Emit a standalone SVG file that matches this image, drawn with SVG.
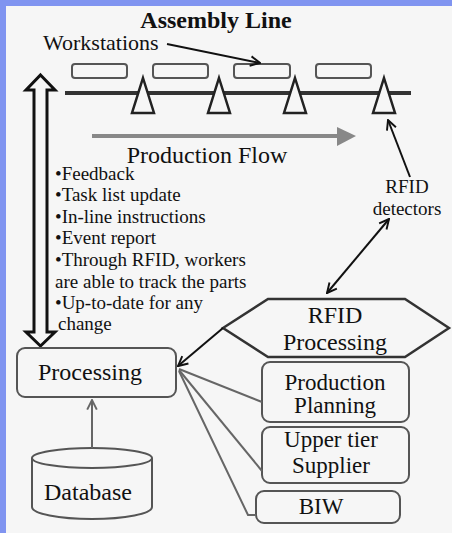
<svg xmlns="http://www.w3.org/2000/svg" width="452" height="533" viewBox="0 0 452 533">
<defs>
<style>
.box{fill:none;stroke:#555;stroke-width:2}
.ws{fill:none;stroke:#555;stroke-width:2}
.tri{fill:#f6f6f6;stroke:#222;stroke-width:2.5}
.blk{fill:none;stroke:#111;stroke-width:2}
.gry{fill:none;stroke:#666;stroke-width:2}
</style>
<marker id="ab" viewBox="0 0 10 10" refX="9" refY="5" markerWidth="12" markerHeight="12" orient="auto-start-reverse" markerUnits="userSpaceOnUse">
<path d="M1,1 L9,5 L1,9" fill="none" stroke="#111" stroke-width="1.6"/>
</marker>
<marker id="ag" viewBox="0 0 10 10" refX="9" refY="5" markerWidth="12" markerHeight="12" orient="auto" markerUnits="userSpaceOnUse">
<path d="M1,1 L9,5 L1,9" fill="none" stroke="#666" stroke-width="1.6"/>
</marker>
</defs>
<rect x="0" y="0" width="452" height="533" fill="#8094f0"/>
<rect x="6" y="6" width="446" height="527" fill="#f6f6f6"/>

<g font-family="Liberation Serif" fill="#111">
<g id="title">
<text x="216" y="28" text-anchor="middle" font-size="24" font-weight="bold">Assembly Line</text>
</g>
<g id="workstations-label">
<text x="43" y="50" font-size="22">Workstations</text>
</g>

<g id="assembly-line">
<line x1="65" y1="93" x2="411" y2="93" stroke="#333" stroke-width="4"/>
<rect class="ws" x="72" y="64" width="55" height="14" rx="3"/>
<rect class="ws" x="153" y="64" width="55" height="14" rx="3"/>
<rect class="ws" x="234" y="64" width="56" height="14" rx="3"/>
<rect class="ws" x="316" y="64" width="55" height="14" rx="3"/>
<polygon class="tri" points="143,78 154,113 132,113"/>
<polygon class="tri" points="219,78 230,113 208,113"/>
<polygon class="tri" points="295,78 306,113 284,113"/>
<polygon class="tri" points="384,78 395,113 373,113"/>
</g>

<g id="production-flow">
<line x1="92" y1="136" x2="340" y2="136" stroke="#888" stroke-width="4"/>
<polygon points="337,127 356,136 337,146" fill="#888"/>
<text x="207" y="163" text-anchor="middle" font-size="24">Production Flow</text>
</g>

<g id="feedback-arrow">
<polygon points="40.5,75 55,90 47,90 47,332 55,332 40.5,346 26,332 34,332 34,90 26,90" fill="#f6f6f6" stroke="#111" stroke-width="3" stroke-linejoin="miter"/>
</g>

<g id="bullets" font-size="19">
<text x="55" y="180">•Feedback</text>
<text x="55" y="201">•Task list update</text>
<text x="55" y="223">•In-line instructions</text>
<text x="55" y="244">•Event report</text>
<text x="55" y="266">•Through RFID, workers</text>
<text x="55" y="288">are able to track the parts</text>
<text x="55" y="309">•Up-to-date for any</text>
<text x="58" y="330">change</text>
</g>

<g id="rfid-detectors" font-size="19">
<text x="407" y="193" text-anchor="middle">RFID</text>
<text x="407" y="215" text-anchor="middle">detectors</text>
</g>

<g id="rfid-processing">
<polygon points="223,328 268,299 405,299 449,328 405,357 268,357" fill="none" stroke="#333" stroke-width="2.5"/>
<text x="335" y="323" text-anchor="middle" font-size="24">RFID</text>
<text x="335" y="350" text-anchor="middle" font-size="24">Processing</text>
</g>

<g id="processing">
<rect class="box" x="17" y="348" width="159" height="49" rx="8"/>
<text x="90" y="380" text-anchor="middle" font-size="24">Processing</text>
</g>

<g id="production-planning" font-size="23">
<rect class="box" x="262" y="362" width="147" height="60" rx="8"/>
<text x="335" y="390" text-anchor="middle">Production</text>
<text x="335" y="413" text-anchor="middle">Planning</text>
</g>

<g id="upper-tier-supplier" font-size="23">
<rect class="box" x="262" y="427" width="147" height="56" rx="8"/>
<text x="331" y="447" text-anchor="middle">Upper tier</text>
<text x="331" y="473" text-anchor="middle">Supplier</text>
</g>

<g id="biw">
<rect class="box" x="256" y="491" width="144" height="32" rx="8"/>
<text x="321" y="514" text-anchor="middle" font-size="23">BIW</text>
</g>

<g id="database">
<path d="M32,458 L32,507 A60,12 0 0 0 152,507 L152,458" fill="#f6f6f6" stroke="#555" stroke-width="2"/>
<ellipse cx="92" cy="458" rx="60" ry="10" fill="#f6f6f6" stroke="#555" stroke-width="2"/>
<text x="88" y="500" text-anchor="middle" font-size="24">Database</text>
</g>
</g>

<g id="connectors">
<line class="blk" x1="167" y1="44" x2="260" y2="63" marker-end="url(#ab)"/>
<line class="blk" x1="410" y1="177" x2="388" y2="120" marker-end="url(#ab)"/>
<line class="blk" x1="389" y1="219" x2="327" y2="293" marker-start="url(#ab)" marker-end="url(#ab)"/>
<line class="blk" x1="223" y1="328" x2="178" y2="366" marker-end="url(#ab)"/>
<line class="gry" x1="92" y1="448" x2="92" y2="400" marker-end="url(#ag)"/>
<line class="gry" x1="262" y1="402" x2="179" y2="369"/>
<line class="gry" x1="262" y1="471" x2="179" y2="370"/>
<polyline class="gry" points="179,371 248,515 256,515"/>
</g>
</svg>
